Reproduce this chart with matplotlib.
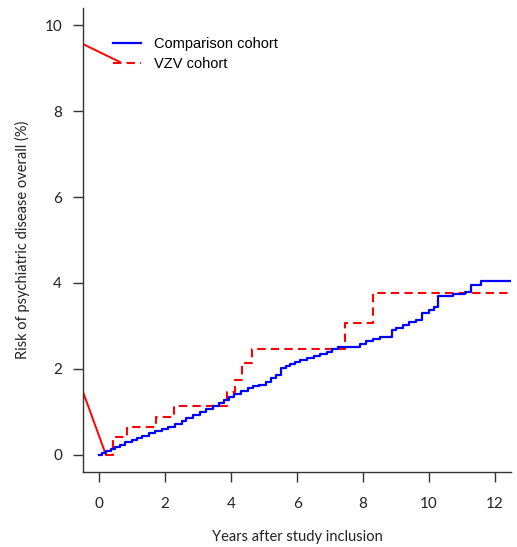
import matplotlib
matplotlib.use("Agg")
import matplotlib.pyplot as plt

# comparison cohort: step times (years) and cumulative risk (%)
comp_years = [0.00, 0.10, 0.20, 0.35, 0.50, 0.65, 0.80, 1.00, 1.15, 1.30,
              1.50, 1.70, 1.90, 2.10, 2.30, 2.50, 2.65, 2.85, 3.05, 3.25,
              3.45, 3.65, 3.80, 3.95, 4.10, 4.30, 4.50, 4.65, 4.85, 5.05,
              5.20, 5.35, 5.52, 5.65, 5.80, 5.95, 6.10, 6.30, 6.50, 6.70,
              6.90, 7.05, 7.25, 7.50, 7.90, 8.10, 8.30, 8.50, 8.87, 9.00,
              9.20, 9.40, 9.60, 9.78, 10.00, 10.15, 10.27, 10.73, 11.10, 11.27,
              11.57, 12.50]
comp_risk = [0.00, 0.04, 0.08, 0.14, 0.19, 0.24, 0.29, 0.35, 0.40, 0.44,
             0.50, 0.55, 0.60, 0.65, 0.72, 0.79, 0.86, 0.92, 0.99, 1.06,
             1.13, 1.20, 1.28, 1.35, 1.41, 1.48, 1.55, 1.60, 1.63, 1.70,
             1.78, 1.85, 2.02, 2.07, 2.11, 2.15, 2.20, 2.26, 2.30, 2.35,
             2.40, 2.47, 2.50, 2.52, 2.58, 2.65, 2.70, 2.75, 2.90, 2.95,
             3.02, 3.08, 3.14, 3.30, 3.38, 3.45, 3.70, 3.75, 3.80, 3.95,
             4.05, 4.05]

# VZV cohort
vzv_years = [0.20, 0.42, 0.85, 1.73, 2.28, 3.87, 4.12, 4.32, 4.64, 7.45, 8.30, 12.50]
vzv_risk = [0.00, 0.42, 0.65, 0.88, 1.14, 1.47, 1.74, 2.14, 2.47, 3.07, 3.77, 3.77]

# stray red segment running off the left of the plot
stray_x = [0.64, -5.14, 0.21]
stray_y = [9.14, 11.30, 0.00]

xticks = [0, 2, 4, 6, 8, 10, 12]
yticks = [0, 2, 4, 6, 8, 10]

fig = plt.figure(figsize=(5.17, 5.47), dpi=100)
ax = fig.add_axes([0.1605, 0.1371, 0.8279, 0.8483])

ax.step(comp_years, comp_risk, where="post", color="#0000ff", lw=1.6,
        label="Comparison cohort", zorder=3)
ax.step(vzv_years, vzv_risk, where="post", color="#ff0000", lw=1.5,
        dashes=(4, 2.5), label="VZV cohort", zorder=2)
ax.plot(stray_x, stray_y, color="#ff0000", lw=1.4, zorder=2)

ax.set_xlim(-0.485, 12.48)
ax.set_ylim(-0.4, 10.4)
ax.set_xticks(xticks)
ax.set_yticks(yticks)

for side in ("top", "right"):
    ax.spines[side].set_visible(False)
for side in ("left", "bottom"):
    ax.spines[side].set_color("#333333")
    ax.spines[side].set_linewidth(1.0)

ax.tick_params(axis="both", length=7, width=1.0, color="#333333",
               labelsize=11, labelcolor="#222222")
ax.tick_params(axis="x", pad=11)
ax.tick_params(axis="y", pad=8)
for lab in ax.get_xticklabels() + ax.get_yticklabels():
    lab.set_family("Lato")

ax.set_xlabel("Years after study inclusion", family="Lato", fontsize=10.5,
              color="#222222")
ax.set_ylabel("Risk of psychiatric disease overall (%)", family="Lato",
              fontsize=10.5, color="#222222")
ax.xaxis.set_label_coords(0.5, -0.14)
ax.yaxis.set_label_coords(-0.142, 0.5)
ax.xaxis.label.set_verticalalignment("center")
ax.yaxis.label.set_verticalalignment("center")

ax.legend(loc="upper left", bbox_to_anchor=(0.057, 0.95), frameon=False,
          prop={"family": "Liberation Sans", "size": 10.5},
          handlelength=1.9, handletextpad=0.9, labelspacing=0.4,
          borderaxespad=0)

fig.savefig("out.png", dpi=100)
